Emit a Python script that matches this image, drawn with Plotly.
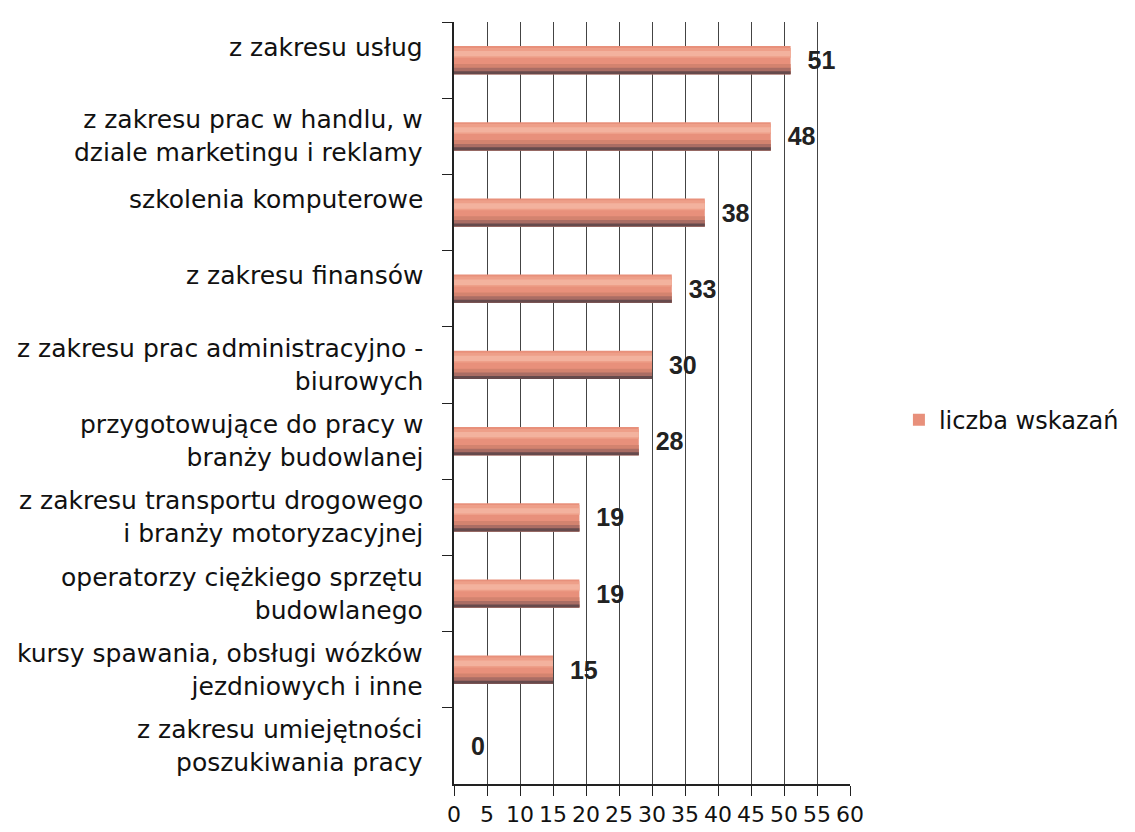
import plotly.graph_objects as go

categories = [
    "z zakresu usług",
    "z zakresu prac w handlu, w<br>dziale marketingu i reklamy",
    "szkolenia komputerowe",
    "z zakresu finansów",
    "z zakresu prac administracyjno -<br>biurowych",
    "przygotowujące do pracy w<br>branży budowlanej",
    "z zakresu transportu drogowego<br>i branży motoryzacyjnej",
    "operatorzy ciężkiego sprzętu<br>budowlanego",
    "kursy spawania, obsługi wózków<br>jezdniowych i inne",
    "z zakresu umiejętności<br>poszukiwania pracy",
]
values = [51, 48, 38, 33, 30, 28, 19, 19, 15, 0]
series_name = "liczba wskazań"
x_ticks = list(range(0, 61, 5))

FONT = "DejaVu Sans"
NUMFONT = "Liberation Sans"
LABEL_SIZE = 25

fig = go.Figure()
# main cylinder body (carries legend and value labels)
fig.add_trace(go.Bar(
    y=categories, x=values, orientation="h", name=series_name,
    width=0.37, offset=-0.185,
    marker=dict(color="#E8907B", line=dict(width=0)),
    texttemplate="\u00a0\u00a0%{x}",
    textposition="outside",
    textfont=dict(family=NUMFONT, size=25, color="#222222", weight="bold"),
    cliponaxis=False,
    showlegend=True,
))
# shading bands to imitate the cylinder gradient
bands = [
    (-0.16, 0.13, "#EE9F89"),
    (-0.12, 0.07, "#F3B29E"),
    (0.05, 0.135, "#D3836F"),
    (0.10, 0.085, "#AA6D64"),
    (0.145, 0.04, "#664A4C"),
]
for off, wd, col in bands:
    fig.add_trace(go.Bar(
        y=categories, x=values, orientation="h", name=series_name,
        width=wd, offset=off,
        marker=dict(color=col, line=dict(width=0)),
        showlegend=False, hoverinfo="skip",
    ))

# category labels (single-line labels sit on the upper line position, like the original)
for cat in categories:
    two_lines = "<br>" in cat
    fig.add_annotation(
        x=0, xref="paper", y=cat, yref="y",
        text=cat, showarrow=False,
        xanchor="right", yanchor="middle", align="right",
        xshift=-29, yshift=0 if two_lines else 13,
        font=dict(family=FONT, size=LABEL_SIZE, color="#111111"),
    )

fig.update_layout(
    width=1135,
    height=832,
    paper_bgcolor="white",
    plot_bgcolor="white",
    margin=dict(l=454, r=285, t=22, b=48, autoexpand=False),
    barmode="overlay",
    font=dict(family=FONT, size=LABEL_SIZE, color="#111111"),
    showlegend=True,
    legend=dict(
        xref="container", yref="container",
        x=0.792, y=0.495, xanchor="left", yanchor="middle",
        font=dict(family=FONT, size=24, color="#111111"),
        itemsizing="constant",
        bgcolor="rgba(0,0,0,0)",
    ),
    xaxis=dict(
        range=[0, 60],
        tickvals=x_ticks,
        ticktext=[str(t) for t in x_ticks],
        showgrid=True,
        gridcolor="#444444",
        gridwidth=1.3,
        showline=True,
        linecolor="#222222",
        linewidth=1.5,
        ticks="outside",
        ticklen=10,
        tickcolor="#222222",
        tickfont=dict(family=FONT, size=22, color="#111111"),
        zeroline=False,
        fixedrange=True,
        automargin=False,
    ),
    yaxis=dict(
        autorange="reversed",
        showline=True,
        linecolor="#222222",
        linewidth=1.5,
        ticks="outside",
        tickson="boundaries",
        ticklen=10,
        tickcolor="#222222",
        showticklabels=False,
        fixedrange=True,
        automargin=False,
    ),
)

fig.write_html(
    "out.html",
    config={"displayModeBar": False},
    post_script="document.body.style.margin='0';document.body.style.overflow='hidden';",
)
